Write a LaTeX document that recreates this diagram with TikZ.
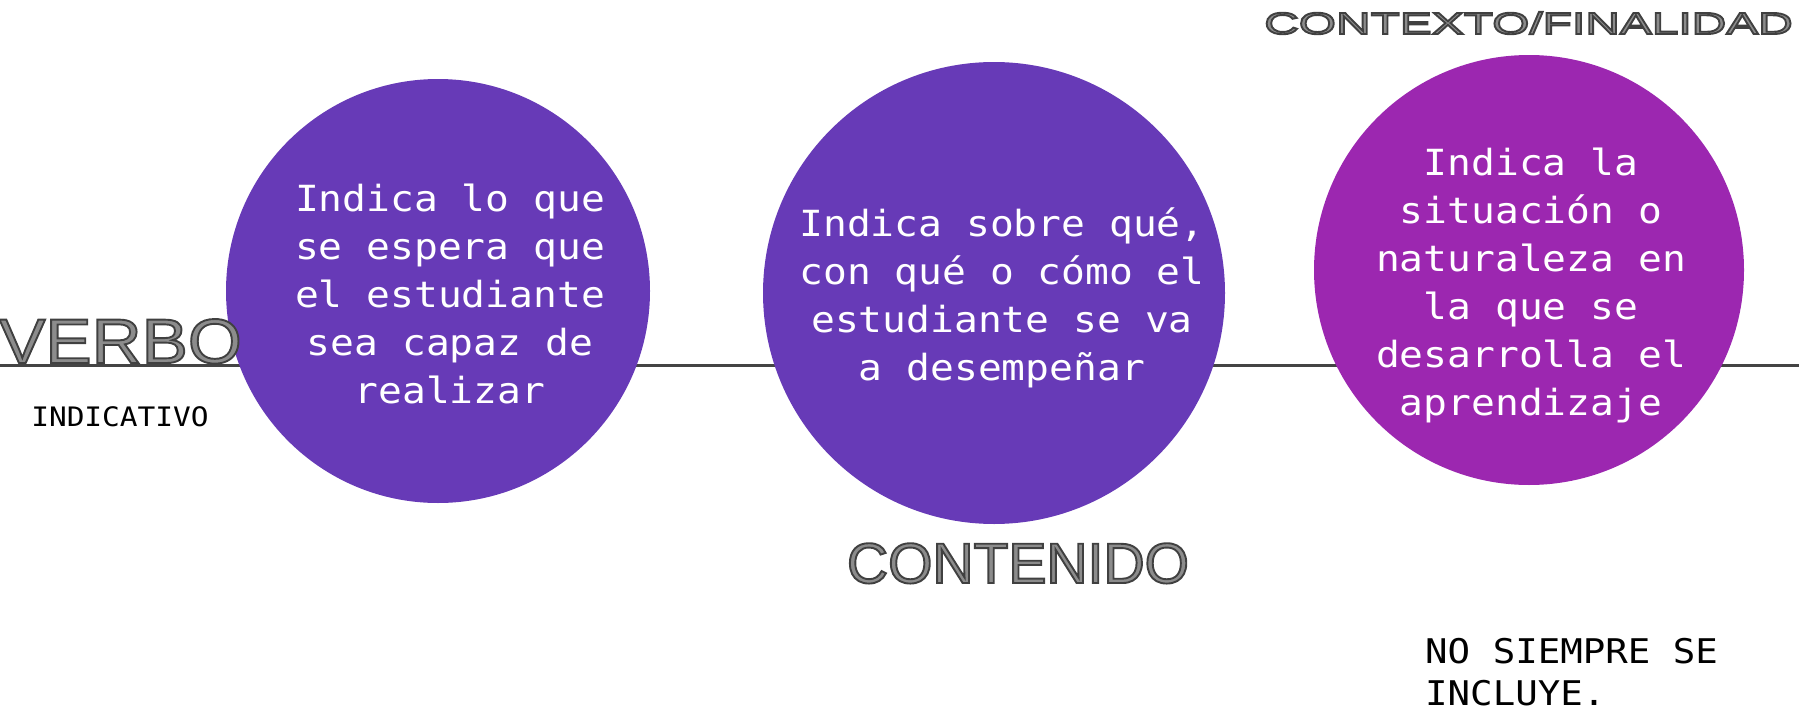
\documentclass[tikz,border=0pt]{standalone}
\usepackage{fontspec}
\newfontfamily\monof[FakeStretch=1.1]{DejaVu Sans Mono}
\newfontfamily\verbof[FakeStretch=1.1]{Liberation Sans}
\newfontfamily\contf{Liberation Sans}
\newfontfamily\ctxf[FakeStretch=1.57]{Liberation Sans}
\definecolor{deeppurple}{HTML}{673AB7}
\definecolor{mypurple}{HTML}{9C27B0}
\definecolor{linegray}{HTML}{444444}
\definecolor{hollowfill}{HTML}{8C8C8C}
\newcommand{\hollowtext}[1]{{\color{hollowfill}\special{pdf:literal direct 0.25 0.25 0.25 RG 1.9 w 2 Tr}#1\special{pdf:literal direct 0 Tr}}}
\begin{document}
\begin{tikzpicture}[x=1pt,y=-1pt,
  bubble/.style={circle, inner sep=0pt, minimum size=#1, draw=none},
  timeline/.style={draw=linegray, line width=3pt},
  intext/.style={text=white, font=\monof\fontsize{36}{48}\selectfont, inner sep=0pt, anchor=base},
  notetext/.style={text=black, inner sep=0pt},
  hollow/.style={inner sep=0pt}]
\useasboundingbox (0,0) rectangle (1799,712);
\coordinate (tl) at (0,365);
\coordinate (tr) at (1799,365);
\draw[timeline] (tl) -- (tr);
\node[bubble=424pt, fill=deeppurple] (c1) at (438,291) {};
\node[bubble=462pt, fill=deeppurple] (c2) at (994,293) {};
\node[bubble=430pt, fill=mypurple] (c3) at (1529,270) {};
\node[intext] (t1) at (450,211) {\begin{tabular}[t]{@{}c@{}}Indica lo que\\se espera que\\el estudiante\\sea capaz de\\realizar\end{tabular}};
\node[intext] (t2) at (1002,236) {\begin{tabular}[t]{@{}c@{}}Indica sobre qué,\\con qué o cómo el\\estudiante se va\\a desempeñar\end{tabular}};
\node[intext] (t3) at (1531,175) {\begin{tabular}[t]{@{}c@{}}Indica la\\situación o\\naturaleza en\\la que se\\desarrolla el\\aprendizaje\end{tabular}};
\node[hollow, anchor=base west, font=\verbof\fontsize{63}{70}\selectfont] (verbo) at (-1,363) {\hollowtext{VERBO}};
\node[hollow, anchor=base, font=\contf\fontsize{57}{64}\selectfont] (contenido) at (1018,583) {\hollowtext{CONTENIDO}};
\node[hollow, anchor=base east, font=\ctxf\fontsize{30.5}{34}\selectfont] (contexto) at (1793,34) {\hollowtext{CONTEXTO/FINALIDAD}};
\node[notetext, anchor=base, font=\monof\fontsize{26.8}{30}\selectfont] (indicativo) at (120,426) {INDICATIVO};
\node[notetext, anchor=base west, font=\monof\fontsize{34}{42}\selectfont] (nota) at (1425,663) {\begin{tabular}[t]{@{}l@{}}NO SIEMPRE SE\\INCLUYE.\end{tabular}};
\end{tikzpicture}
\end{document}
